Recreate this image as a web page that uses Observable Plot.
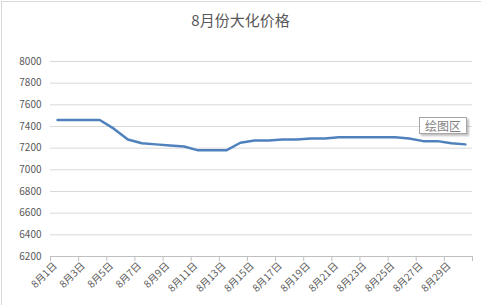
<!DOCTYPE html>
<html><head><meta charset="utf-8">
<script src="https://cdn.jsdelivr.net/npm/d3@7"></script>
<script src="https://cdn.jsdelivr.net/npm/@observablehq/plot@0.6"></script>
<style>
body{margin:0;background:#fff;}
#chart{position:relative;width:481px;height:305px;overflow:hidden;font-family:"Noto Sans CJK SC","Noto Sans",sans-serif;background:#fff;}
#frame{position:absolute;left:1px;top:1px;right:-2px;bottom:-2px;border-left:1px solid #d9d9d9;border-top:1px solid #d9d9d9;}
#title{position:absolute;left:0;top:10px;width:481px;text-align:center;font-size:15px;color:#595959;line-height:20px;}
#plot{position:absolute;left:0;top:45px;}
#tip{position:absolute;left:419px;top:117px;width:46px;height:15px;border:1px solid #a6a6a6;background:#fff;font-size:12px;color:#7f7f7f;line-height:15px;text-align:center;box-shadow:2px 2px 2px rgba(0,0,0,0.25);}
</style></head>
<body>
<div id="chart">
  <div id="frame"></div>
  <div id="title">8月份大化价格</div>
  <div id="plot"></div>
  <div id="tip">绘图区</div>
</div>
<script>
const days = [1,2,3,4,5,6,7,8,9,10,11,12,13,14,15,16,17,18,19,20,21,22,23,24,25,26,27,28,29,30];
const prices = [7460,7460,7460,7460,7380,7280,7245,7235,7225,7215,7180,7180,7180,7250,7270,7270,7280,7280,7290,7290,7300,7300,7300,7300,7300,7290,7265,7265,7245,7235];
const yTicks = [6200,6400,6600,6800,7000,7200,7400,7600,7800,8000];
const labelDays = [1,3,5,7,9,11,13,15,17,19,21,23,25,27,29];
const boundaries = [0.5,2.5,4.5,6.5,8.5,10.5,12.5,14.5,16.5,18.5,20.5,22.5,24.5,26.5,28.5,30.5];

const data = days.map((d,i)=>({day:d, price:prices[i]}));

const chart = Plot.plot({
  width:481, height:260,
  marginTop:16, marginBottom:49, marginLeft:50, marginRight:9,
  style:{fontFamily:'"Noto Sans CJK SC","Noto Sans",sans-serif', background:"transparent"},
  x:{type:"linear", domain:[0.5,30.5], axis:null},
  y:{domain:[6200,8000], axis:null},
  marks:[
    Plot.ruleY(yTicks.filter(v=>v>6200), {stroke:"#d9d9d9", strokeWidth:1}),
    Plot.axisX(boundaries, {tickSize:5, tickFormat:()=>"", label:null, stroke:"#bfbfbf", strokeOpacity:1}),
    Plot.ruleY([6200], {stroke:"#bfbfbf", strokeWidth:1}),
    Plot.axisY(yTicks, {tickSize:0, tickPadding:9, fontSize:10, label:null, tickFormat:d=>String(d), fill:"#595959"}),
    Plot.text(labelDays, {x:d=>d, frameAnchor:"bottom", dy:10, rotate:-45, textAnchor:"end", text:d=>`8月${d}日`, fontSize:10, fill:"#595959"}),
    Plot.line(data, {x:"day", y:"price", stroke:"#4f81bd", strokeWidth:2.5, strokeLinejoin:"round"})
  ]
});
document.getElementById("plot").appendChild(chart);
</script>
</body></html>
